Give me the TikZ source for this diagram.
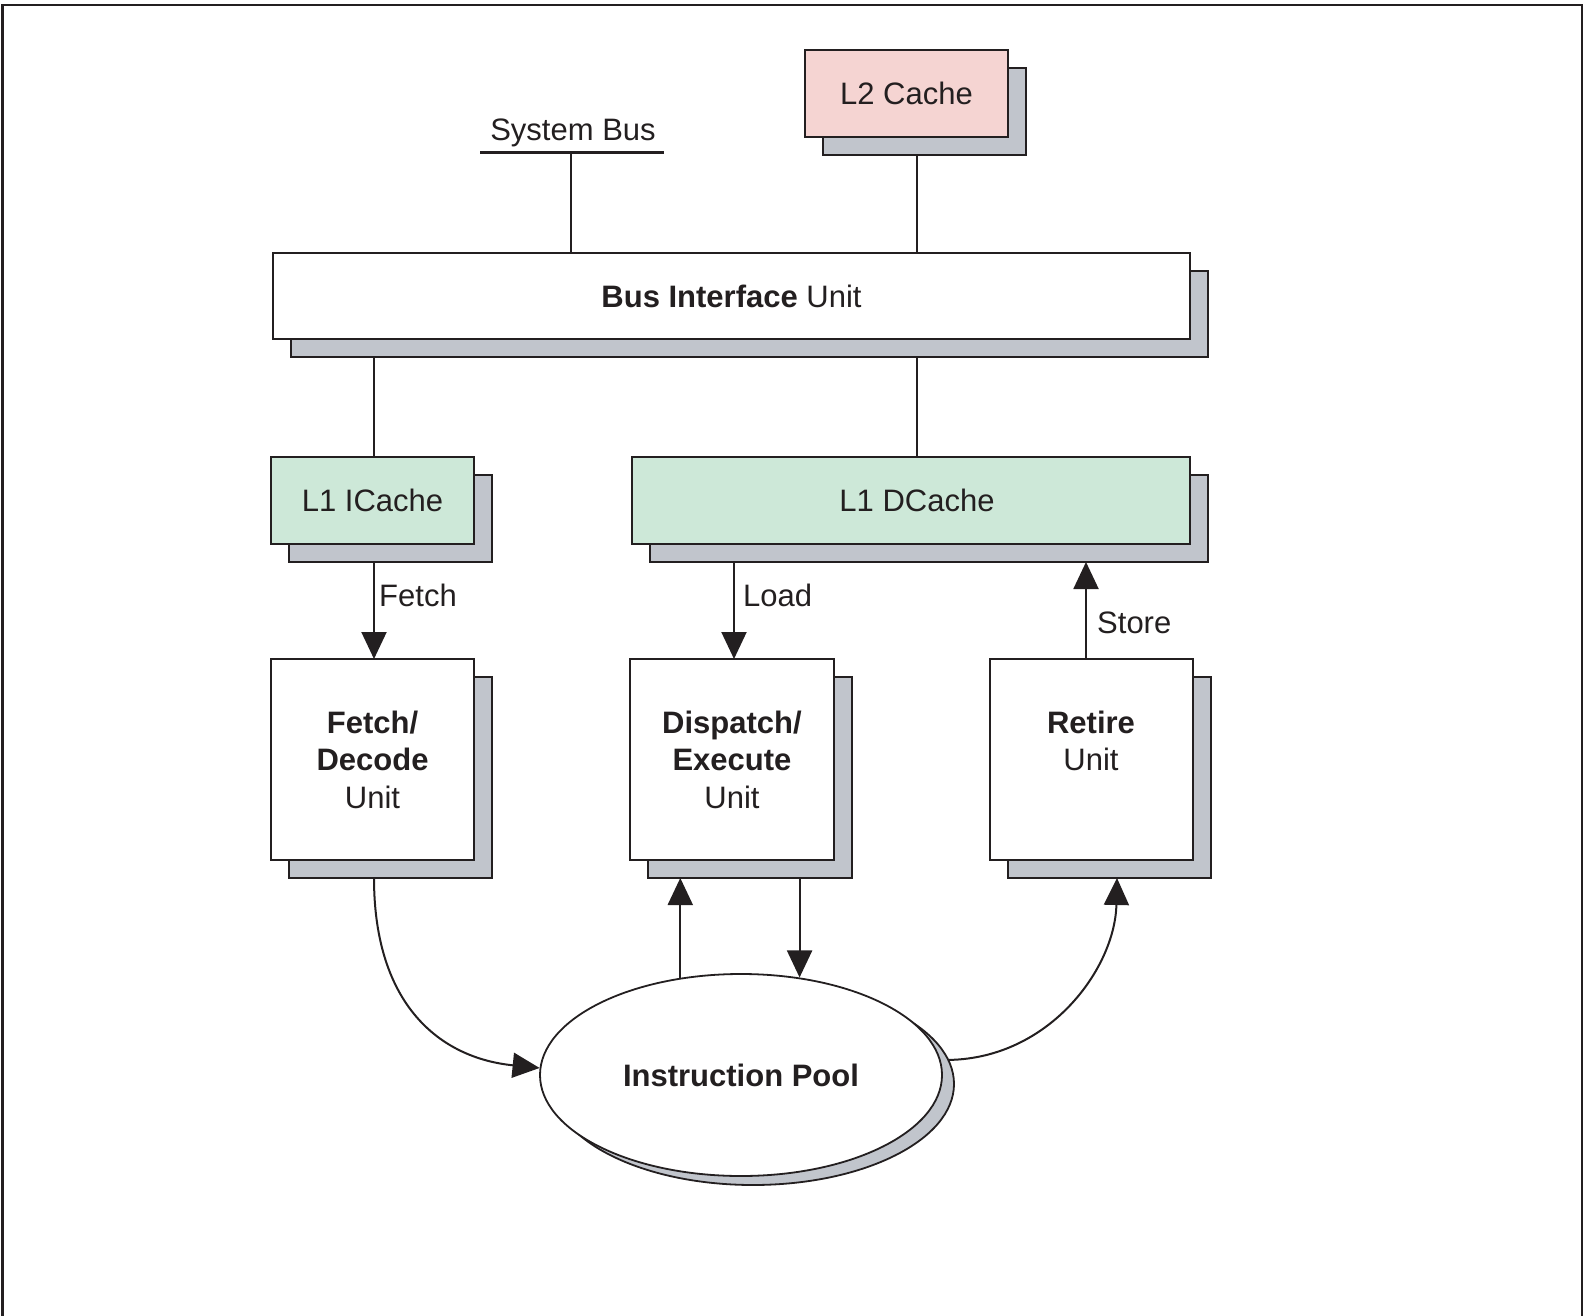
\documentclass[tikz,border=0pt]{standalone}
\usepackage{fontspec}
\setmainfont{Liberation Sans}
\usetikzlibrary{arrows.meta,calc,fit,shapes.geometric}
\definecolor{ink}{HTML}{231F20}
\definecolor{shade}{HTML}{C1C5CC}
\definecolor{pinkfill}{HTML}{F5D4D2}
\definecolor{greenfill}{HTML}{CDE8D8}

% box with an offset grey copy behind it: name, x1, y1, x2, y2, fill colour
\newcommand\shadowedbox[6]{%
  \node[backbox, fit={(#2+18,#3+18) (#4+18,#5+18)}] (#1-sh) {};
  \node[frontbox, fill=#6, fit={(#2,#3) (#4,#5)}] (#1) {};}

\begin{document}
\begin{tikzpicture}[x=1bp,y=-1bp,
  every node/.style={font=\fontsize{31bp}{37.5bp}\selectfont, text=ink},
  frontbox/.style={draw=ink, line width=2.2bp, inner sep=0pt, outer sep=0pt},
  backbox/.style={frontbox, fill=shade},
  link/.style={draw=ink, line width=2bp},
  arrowlink/.style={link, -{Triangle[length=27bp,width=25bp]}},
  lbl/.style={anchor=west, inner sep=0pt},
  pool/.style={ellipse, draw=ink, line width=1.8bp, inner sep=0pt,
               minimum width=402bp, minimum height=202bp}
]
\useasboundingbox (0,0) rectangle (1585,1316);

% outer frame (open at the bottom)
\draw[ink, line width=2.5bp] (2.5,1316) -- (2.5,5) -- (1582,5) -- (1582,1316);

% boxes
\shadowedbox{l2}{805}{50}{1008}{137}{pinkfill}
\shadowedbox{biu}{273}{253}{1190}{339}{white}
\shadowedbox{l1i}{271}{457}{474}{544}{greenfill}
\shadowedbox{l1d}{632}{457}{1190}{544}{greenfill}
\shadowedbox{fdu}{271}{659}{474}{860}{white}
\shadowedbox{deu}{630}{659}{834}{860}{white}
\shadowedbox{rtu}{990}{659}{1193}{860}{white}

% box texts
\node (l2t) at (l2) {L2 Cache};
\node (biut) at (biu) {\textbf{Bus Interface} Unit};
\node (l1it) at (l1i) {L1 ICache};
\node (l1dt) at (917,500) {L1 DCache};
\node[align=center] (fdut) at (fdu) {\textbf{Fetch/}\\\textbf{Decode}\\Unit};
\node[align=center] (deut) at (deu) {\textbf{Dispatch/}\\\textbf{Execute}\\Unit};
\node[align=center] (rtut) at (1091,741) {\textbf{Retire}\\Unit};

% system bus
\node (sysbus) at (573,133) {System Bus};
\coordinate (busL) at (480,153);
\coordinate (busR) at (664,153);
\coordinate (bustap) at (571,153);
\draw[ink, line width=3bp] (busL) -- (busR);

% column positions of the vertical links
\coordinate (xa) at (374,0);
\coordinate (xb) at (734,0);
\coordinate (xc) at (917,0);
\coordinate (xd) at (1086,0);
\coordinate (xe) at (1117,0);

% bus links
\draw[link] (bustap) -- (bustap |- biu.north);
\draw[link] (l2-sh.south -| xc) -- (biu.north -| xc);
\draw[link] (biu-sh.south -| xa) -- (l1i.north -| xa);
\draw[link] (biu-sh.south -| xc) -- (l1d.north -| xc);

% cache accesses
\draw[arrowlink] (l1i-sh.south -| xa) -- (fdu.north -| xa);
\node[lbl] (fetchlbl) at (379,595) {Fetch};
\draw[arrowlink] (l1d-sh.south -| xb) -- (deu.north -| xb);
\node[lbl] (loadlbl) at (743,595) {Load};
\draw[arrowlink] (rtu.north -| xd) -- (l1d-sh.south -| xd);
\node[lbl] (storelbl) at (1097,623) {Store};

% instruction pool
\node[pool, fill=shade] (pool-sh) at (753,1084) {};
\node[pool, fill=white] (pool) at (741,1075) {\textbf{Instruction Pool}};

% pool traffic
\draw[arrowlink] (pool.122) -- (pool.122 |- deu-sh.south);
\draw[arrowlink] (deu-sh.south -| pool.59) -- (pool.59);
\draw[arrowlink] (fdu-sh.south -| xa) .. controls (374,1005) and (440,1058) .. (pool.178.5);
\draw[arrowlink] (pool-sh.7) .. controls (1050,1058) and (1115,968) .. (rtu-sh.south -| xe);
\end{tikzpicture}
\end{document}
